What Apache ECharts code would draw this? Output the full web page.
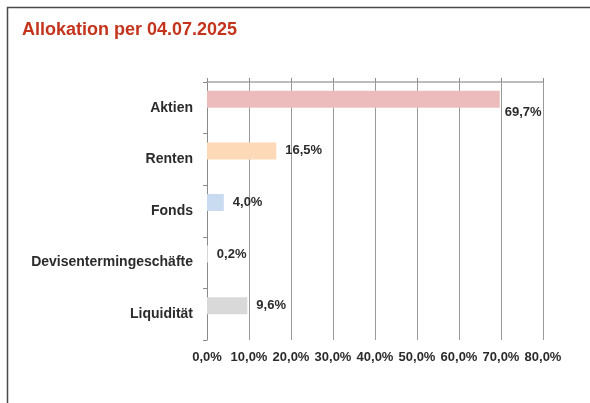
<!DOCTYPE html>
<html>
<head>
<meta charset="utf-8">
<script src="https://cdn.jsdelivr.net/npm/echarts@6/dist/echarts.min.js"></script>
<style>
  html, body { margin: 0; padding: 0; background: #fff; }
  #chart { width: 590px; height: 403px; }
</style>
</head>
<body>
<div id="chart"></div>
<script>
const categories = ['Aktien', 'Renten', 'Fonds', 'Devisentermingeschäfte', 'Liquidität'];
const shares = [69.7, 16.5, 4.0, 0.2, 9.6];
const barColors = ['#ecbcbc', '#fed9b8', '#c9dbf1', '#e6e6e6', '#d9d9d9'];
const xTicks = [0, 10, 20, 30, 40, 50, 60, 70, 80];

const fmt = v => v.toFixed(1).replace('.', ',') + '%';

const chart = echarts.init(document.getElementById('chart'));

const barData = shares.map((v, i) => {
    const item = { value: v, itemStyle: { color: barColors[i] } };
    // the Aktien label sits below the end of the bar
    if (i === 0) {
        item.label = { distance: 5, offset: [0, 13] };
    }
    return item;
});

const option = {
    animation: false,
    title: {
        text: 'Allokation per 04.07.2025',
        left: 22,
        top: 21,
        padding: 0,
        textStyle: {
            fontFamily: 'Liberation Sans',
            fontWeight: 'bold',
            fontSize: 18,
            color: '#c4341c'
        }
    },
    graphic: [{
        type: 'polyline',
        shape: { points: [[7.5, 403], [7.5, 7.5], [590, 7.5]] },
        style: { stroke: '#4a4a4a', lineWidth: 1.5, fill: null }
    }],
    grid: { left: 207, right: 47, top: 82, bottom: 63 },
    xAxis: [
        {
            type: 'value',
            position: 'bottom',
            min: xTicks[0],
            max: xTicks[xTicks.length - 1],
            interval: 10,
            axisLine: { show: false },
            axisTick: { show: false },
            splitLine: { show: true, lineStyle: { color: '#9a9a9a', width: 1 } },
            axisLabel: {
                margin: 11,
                formatter: v => fmt(v),
                fontFamily: 'Liberation Sans',
                fontWeight: 'bold',
                fontSize: 13,
                color: '#2b2b2b'
            }
        },
        {
            type: 'value',
            position: 'top',
            min: xTicks[0],
            max: xTicks[xTicks.length - 1],
            interval: 10,
            axisLine: { show: true, lineStyle: { color: '#a6a6a6', width: 1.5 } },
            axisTick: { show: true, length: 4, lineStyle: { color: '#8a8a8a' } },
            splitLine: { show: false },
            axisLabel: { show: false }
        }
    ],
    yAxis: {
        type: 'category',
        inverse: true,
        data: categories,
        axisLine: { show: true, lineStyle: { color: '#8a8a8a', width: 1 } },
        axisTick: { show: true, length: 4, lineStyle: { color: '#8a8a8a' } },
        axisLabel: {
            margin: 14,
            fontFamily: 'Liberation Sans',
            fontWeight: 'bold',
            fontSize: 14,
            color: '#2b2b2b'
        }
    },
    series: [
        {
            type: 'bar',
            data: barData,
            barWidth: 17,
            barGap: '0%',
            label: {
                show: true,
                position: 'right',
                distance: 9,
                formatter: p => fmt(p.value),
                fontFamily: 'Liberation Sans',
                fontWeight: 'bold',
                fontSize: 13,
                color: '#2b2b2b'
            }
        },
        {
            type: 'bar',
            data: shares.map(() => null),
            barWidth: 17
        }
    ]
};

chart.setOption(option);
</script>
</body>
</html>
